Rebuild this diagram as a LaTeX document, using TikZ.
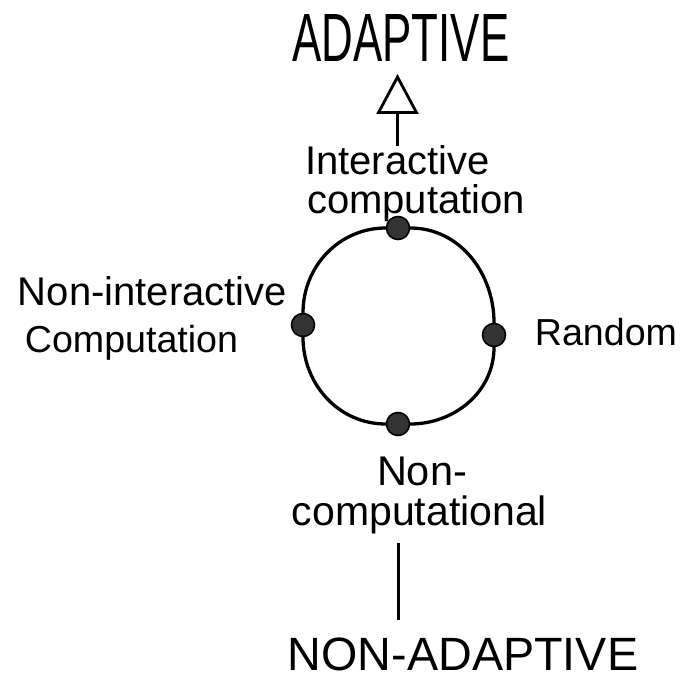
\documentclass[tikz,border=0pt]{standalone}
\usepackage{fontspec}
\setmainfont{Liberation Sans}
\usetikzlibrary{arrows.meta}
\begin{document}
\begin{tikzpicture}[x=1pt,y=-1pt,
  lbl/.style={anchor=base,inner sep=0pt,outer sep=0pt,text=black},
  dot/.style={circle,minimum size=23pt,inner sep=0pt,fill=black!80,draw=black,line width=1.6pt},
  ring/.style={line width=3.3pt,black,line cap=round},
  link/.style={line width=3pt,black}]
\useasboundingbox[fill=white] (0,0) rectangle (680,679);
% top and bottom headings
\node[lbl] (adaptive) at (401,62) {\resizebox{217pt}{47pt}{ADAPTIVE}};
\node[lbl,font=\fontsize{46.7}{50}\selectfont] (nonad) at (463,670) {NON-ADAPTIVE};
% labels
\node[lbl,anchor=north,align=center,font=\fontsize{40}{39}\selectfont] (ic) at (397.5,146)
  {Interactive\\\hspace*{37pt}computation};
\node[lbl,font=\fontsize{40}{44}\selectfont] (ni1) at (152.5,305) {Non-interactive};
\node[lbl,font=\fontsize{37.6}{40}\selectfont] (ni2) at (131.5,352) {Computation};
\node[lbl,font=\fontsize{37.6}{40}\selectfont] (random) at (606,345) {Random};
\node[lbl,font=\fontsize{41.5}{44}\selectfont] (nc1) at (422,485) {Non-};
\node[lbl,font=\fontsize{41}{44}\selectfont] (nc2) at (419.5,525) {computational};
% ring nodes
\node[dot] (top) at (398,228) {};
\node[dot] (right) at (494,335) {};
\node[dot] (bottom) at (398,424) {};
\node[dot] (left) at (303,325) {};
% ring arcs
\draw[ring] (top) to[out=0,in=90] (right);
\draw[ring] (right) to[out=-90,in=0] (bottom);
\draw[ring] (bottom) to[out=180,in=-90] (left);
\draw[ring] (left) to[out=90,in=180] (top);
% arrow to ADAPTIVE
\draw[link,-{Triangle[open,length=40pt,width=42pt,line width=2.8pt]},shorten >=12pt]
  (ic.north) -- (ic.north |- adaptive.south);
% line to NON-ADAPTIVE
\draw[link,shorten <=9pt,shorten >=17pt] (nc2.south -| bottom) -- (nonad.north -| bottom);
\end{tikzpicture}
\end{document}
